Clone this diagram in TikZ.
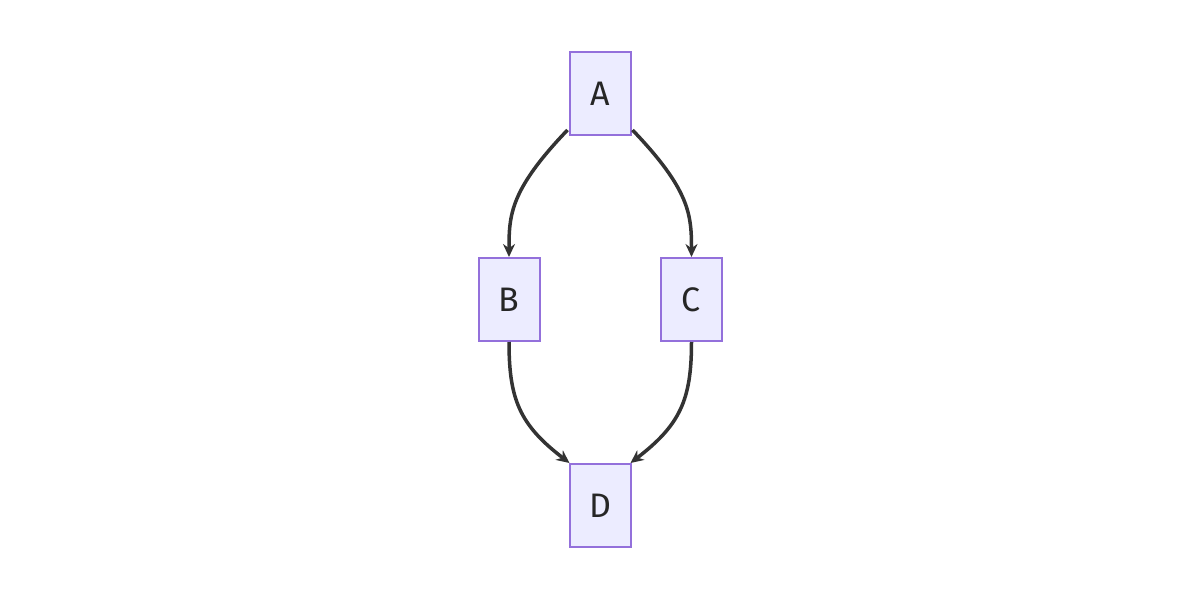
\documentclass[tikz,border=0pt]{standalone}
\usepackage{fontspec}
\setmainfont{Fira Sans}
\usetikzlibrary{arrows.meta}
\definecolor{nfill}{HTML}{ECECFF}
\definecolor{nline}{HTML}{9370DB}
\definecolor{eline}{HTML}{333333}
\begin{document}
\begin{tikzpicture}[x=1pt,y=-1pt,
  box/.style={draw=nline,fill=nfill,line width=2pt,minimum width=61pt,minimum height=83pt,inner sep=0pt,font=\fontsize{34}{40}\selectfont,text=black!85},
  edge/.style={draw=eline,line width=3.5pt,-{Stealth[length=13pt,width=12pt]}}]
\useasboundingbox (0,0) rectangle (1200,600);
\node[box] (A) at (600,93.5) {A};
\node[box] (B) at (509,299.5) {B};
\node[box] (C) at (691.5,299.5) {C};
\node[box] (D) at (600,505.5) {D};
\draw[edge] (A.south west) ++(-1,-6) coordinate (a1) .. controls (510,190) and (509,215) .. (B.north);
\draw[edge] (A.south east) ++(1,-6) coordinate (a2) .. controls (690,190) and (691.5,215) .. (C.north);
\draw[edge] (B.south) .. controls (509,400) and (520,425) .. ([xshift=1pt]D.north west);
\draw[edge] (C.south) .. controls (691.5,400) and (680,425) .. ([xshift=-1pt]D.north east);
\end{tikzpicture}
\end{document}
